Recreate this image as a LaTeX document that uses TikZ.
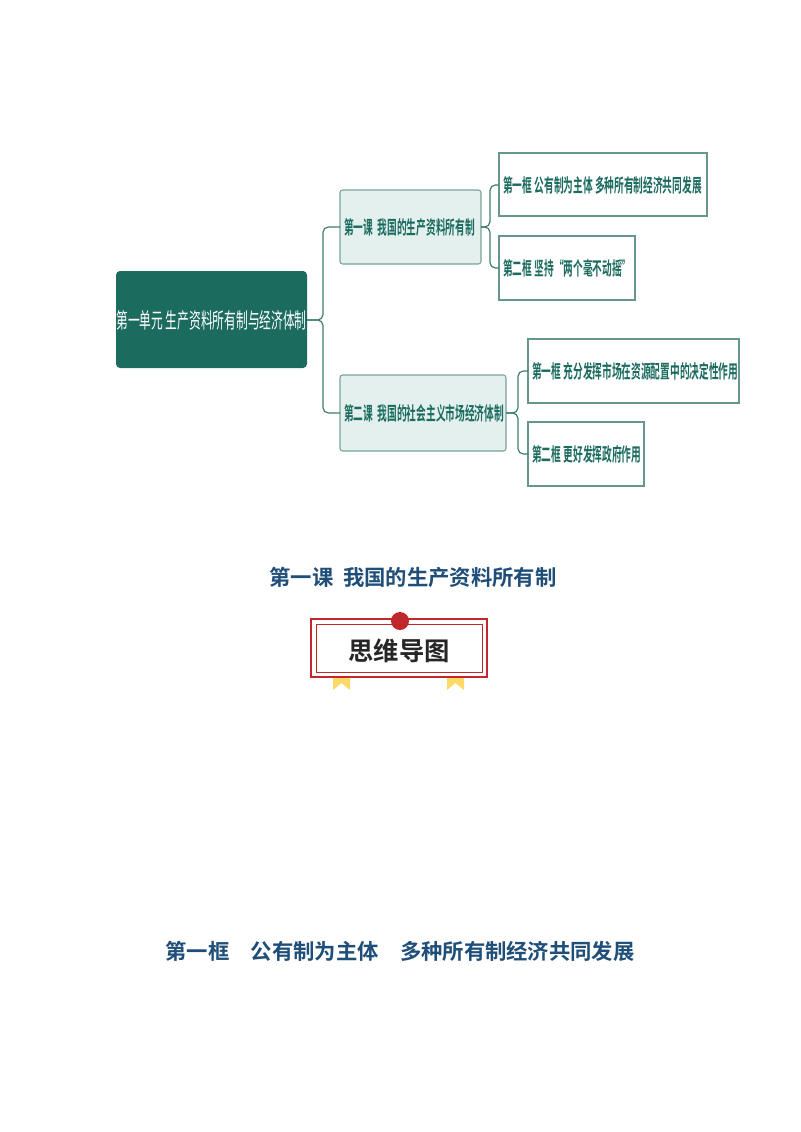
\documentclass[tikz,border=0pt]{standalone}
\usepackage{fontspec}
\usepackage{graphicx}
\newfontfamily\cjk{Noto Sans CJK SC}[BoldFont=* Bold]
\newfontfamily\cjkb{Noto Sans CJK SC Bold}
\definecolor{teal1}{HTML}{1B6B5F}
\definecolor{lite}{HTML}{E3F0EE}
\definecolor{edge}{HTML}{3E7D70}
\definecolor{ttl}{HTML}{1F4E79}
\definecolor{redc}{HTML}{C0282C}
\definecolor{yel}{HTML}{FFD966}
\newcommand{\cond}[1]{\scalebox{0.52}[1]{#1}}
\begin{document}
\begin{tikzpicture}[x=0.75pt,y=-0.75pt,
  lvl/.style={draw=edge!70,fill=lite,rounded corners=2pt,line width=0.8pt},
  leaf/.style={draw=edge!80,fill=white,line width=0.8pt},
  txt/.style={font=\cjkb\fontsize{14}{16}\selectfont,text=teal1,anchor=west,inner sep=0pt},
  conn/.style={draw=edge,line width=0.9pt,rounded corners=4pt}]
\useasboundingbox (0,0) rectangle (800,1132);
\fill[white] (0,0) rectangle (800,1132);
% root
\fill[teal1,rounded corners=3pt] (116,271) rectangle (307,368);
\node[font=\cjk\fontsize{16}{18}\selectfont,text=white,inner sep=0pt] (root) at (211.5,320) {\scalebox{0.55}[1]{第一单元\ 生产资料所有制与经济体制}};
\coordinate (rootE) at (307,320);
% level 1
\draw[lvl] (340,190) rectangle (481,264);
\node[txt] (l1) at (344,227) {\cond{第一课\ \ 我国的生产资料所有制}};
\coordinate (l1W) at (340,227); \coordinate (l1E) at (481,227);
\draw[lvl] (340,375) rectangle (506,451);
\node[txt] (l2) at (344,413) {\cond{第二课\ \ 我国的社会主义市场经济体制}};
\coordinate (l2W) at (340,413); \coordinate (l2E) at (506,413);
% leaves
\draw[leaf] (499,153) rectangle (707,216);
\node[txt] (a1) at (503,185) {\cond{第一框 公有制为主体\ 多种所有制经济共同发展}};
\coordinate (a1W) at (499,185);
\draw[leaf] (499,236) rectangle (635,300);
\node[txt] (a2) at (503,268) {\cond{第二框 坚持“两个毫不动摇”}};
\coordinate (a2W) at (499,268);
\draw[leaf] (528,339) rectangle (739,403);
\node[txt] (b1) at (532,371) {\cond{第一框 充分发挥市场在资源配置中的决定性作用}};
\coordinate (b1W) at (528,371);
\draw[leaf] (528,422) rectangle (644,486);
\node[txt] (b2) at (532,454) {\cond{第二框 更好发挥政府作用}};
\coordinate (b2W) at (528,454);
% connectors
\draw[conn] (rootE) -- (323,320) |- (l1W);
\draw[conn] (rootE) -- (323,320) |- (l2W);
\draw[conn] (l1E) -- (490,227) |- (a1W);
\draw[conn] (l1E) -- (490,227) |- (a2W);
\draw[conn] (l2E) -- (518,413) |- (b1W);
\draw[conn] (l2E) -- (518,413) |- (b2W);
% title 1
\node[font=\cjk\bfseries\fontsize{16}{18}\selectfont,text=ttl] (t1) at (413,577) {第一课\ \ 我国的生产资料所有制};
% badge
\fill[yel] (333,670) -- (350,670) -- (350,690) -- (341.5,683) -- (333,690) -- cycle;
\fill[yel] (447,670) -- (464,670) -- (464,690) -- (455.5,683) -- (447,690) -- cycle;
\draw[redc,line width=0.8pt,fill=white] (311,619) rectangle (487,677);
\draw[redc,line width=0.6pt] (316,624) rectangle (482,672);
\fill[redc] (400,621) circle (9);
\node[font=\cjk\bfseries\fontsize{19}{21}\selectfont,text=black!85] (badge) at (399,651) {思维导图};
% title 2
\node[font=\cjk\bfseries\fontsize{16}{18}\selectfont,text=ttl] (t2) at (400,951) {第一框\quad 公有制为主体\quad 多种所有制经济共同发展};
\end{tikzpicture}
\end{document}
